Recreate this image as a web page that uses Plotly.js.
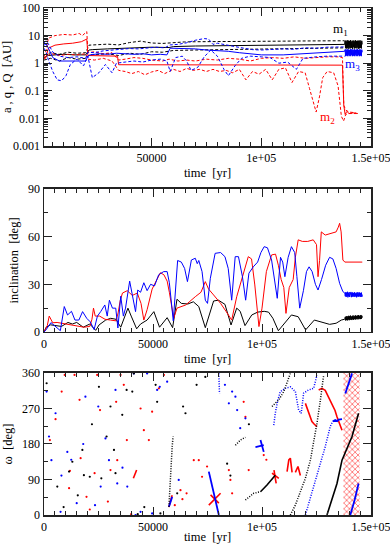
<!DOCTYPE html>
<html>
<head>
<meta charset="utf-8">
<script src="https://cdn.plot.ly/plotly-3.0.1.min.js"></script>
<style>
  body { margin: 0; background: #fff; }
  #plot { width: 390px; height: 544px; }
</style>
</head>
<body>
<div id="plot"></div>
<script>
// ---------- shared noisy tail (end of run) ----------
const noiseT = [138000,138200,138400,138600,138800,139000,139200,139400,139600,139800,
  140000,140200,140400,140600,140800,141000,141200,141400,141600,141800,
  142000,142200,142400,142600,142800,143000,143200,143400,143600,143800,
  144000,144200,144400,144600,144800,145000,145200,145400,145600,145800,146000];

// ---------- panel 1 : a, q, Q [AU] ----------
const kA_t = [1000,3000,6000,10000,15000,20000,21500,23000,30000,40000,50000,58000,60000,70000,80000,90000,100000,110000,120000,130000,137800];
const kA   = [1.6,1.9,2.0,2.1,2.0,2.0,3.0,3.1,3.3,3.6,3.8,3.7,4.0,4.2,4.3,4.4,4.5,4.6,4.7,4.8,4.8];
const kANoise = [4.8,6.4,3.5,6.7,3.4,6.2,3.6,6.8,3.3,6.5,3.7,6.3,3.4,6.9,3.5,6.1,3.6,6.6,3.3,6.4,3.8,6.7,3.4,6.2,3.5,6.8,3.6,6.3,3.4,6.5,3.7,6.6,3.3,6.4,3.5,6.8,3.6,6.2,3.4,6.5,4.8];
const kQ_t = [1000,4000,8000,12000,16000,20000,21500,25000,30000,35000,40000,45000,50000,55000,60000,65000,70000,80000,90000,100000,110000,120000,130000,138000];
const kQ   = [2.0,2.4,2.1,2.5,2.3,2.4,4.5,4.6,4.9,4.6,5.6,6.3,5.4,5.2,5.6,5.9,6.0,6.0,6.2,6.2,6.3,6.4,6.5,6.5];
const kq_t = [1000,4000,8000,12000,16000,20000,21500,25000,30000,35000,40000,45000,50000,55000,60000,70000,80000,90000,100000,110000,120000,130000,138000];
const kq   = [1.3,1.5,1.2,1.6,1.4,1.5,2.0,2.1,2.2,1.9,2.3,2.1,2.6,2.5,2.9,3.0,3.1,3.2,3.3,3.3,3.4,3.5,3.6];

const rA_t = [1000,2000,3000,6000,10000,14000,18000,20500,21000,25000,30000,34500,35000,50000,70000,90000,110000,130000,137000,137600,138200,139000,140000,142000,144000];
const rA   = [1.5,1.7,3.5,4.5,5.0,5.3,6.0,7.5,1.9,1.9,1.85,1.8,0.88,0.87,0.86,0.86,0.85,0.85,0.85,0.03,0.014,0.018,0.015,0.016,0.015];
const rQ_t = [1000,2000,3000,6000,10000,14000,17000,18500,20500,21000,24000,28000,32000,35000,38000,42000,46000,50000,55000,58000,62000,66000,70000,75000,80000,85000,90000,95000,100000,105000,110000,115000,120000,125000,130000,135000,137000,137600,138500,140000,143000];
const rQ   = [1.7,3,8,10,11,10.5,12,10,14,2.4,2.6,2.2,2.4,1.3,1.4,1.6,1.5,1.3,1.2,1.4,1.2,1.3,1.2,1.4,1.3,1.5,1.4,1.2,1.5,1.6,1.5,1.7,1.5,1.6,1.7,1.7,1.6,0.03,0.02,0.017,0.016];
const rq_t = [1000,2000,3000,5000,8000,12000,16000,20000,21000,24000,28000,32000,35000,38000,41000,44000,47000,50000,53000,56000,58000,60000,63000,66000,69000,72000,75000,78000,81000,84000,87000,90000,93000,96000,99000,102000,105000,108000,111000,114000,117000,120000,122000,124000,125000,126500,128000,130000,133000,135000,136500,137500,138500,140000,144000];
const rq   = [1.4,1.6,2.0,2.2,1.9,2.1,2.0,2.2,1.4,1.3,1.5,1.2,0.55,0.5,0.42,0.5,0.38,0.48,0.55,0.42,0.5,0.6,0.5,0.65,0.55,0.6,0.5,0.6,0.5,0.55,0.45,0.6,0.25,0.5,0.4,0.6,0.25,0.6,0.68,0.2,0.5,0.45,0.12,0.03,0.017,0.06,0.3,0.5,0.45,0.15,0.012,0.008,0.014,0.015,0.015];

const bA_t = [1000,2000,3000,5000,8000,12000,16000,20000,21000,22000,26000,30000,34000,38000,42000,46000,50000,54000,57000,58500,62000,66000,70000,75000,80000,85000,90000,95000,100000,110000,120000,130000,137800];
const bA   = [4.5,5.0,3.5,1.6,1.2,1.2,1.15,1.2,1.8,2.0,2.2,2.1,2.3,2.2,2.1,2.2,2.0,2.1,2.0,3.5,3.4,3.5,3.3,3.0,2.9,2.7,2.4,2.2,2.0,2.0,2.2,2.5,2.7];
const bANoise = [2.7,3.1,1.8,3.2,1.9,3.0,1.8,3.2,2.0,3.1,1.8,3.0,1.9,3.2,1.8,3.1,2.0,3.2,1.8,3.0,1.9,3.1,1.8,3.2,2.0,3.0,1.8,3.1,1.9,3.2,1.8,3.0,2.0,3.1,1.8,3.2,1.9,3.0,1.8,3.1,2.5];
const bQ_t = [1000,2000,3000,5000,8000,12000,16000,20000,21000,24000,28000,32000,36000,40000,44000,48000,52000,56000,58500,62000,66000,70000,74000,76000,78000,80000,84000,88000,92000,96000,100000,105000,110000,115000,120000,125000,130000,138000];
const bQ   = [5.5,6.5,5.0,2.5,1.8,1.6,1.7,1.5,2.5,2.4,2.8,3.0,3.2,3.4,3.3,3.6,3.8,3.6,4.6,4.8,5.5,6.8,7.8,7.5,4.8,5.3,4.5,4.0,3.5,3.1,3.0,3.2,3.3,3.2,3.6,3.5,3.8,3.9];
const bq_t = [1000,2000,3000,5000,7000,9000,11000,13000,16000,19000,21000,23000,26000,29000,32000,34000,38000,42000,46000,50000,54000,57000,58500,61000,64000,66000,68000,71000,74000,77000,80000,83000,85000,88000,91000,95000,100000,104000,108000,112000,116000,119000,125000,130000,138000];
const bq   = [3.5,2.5,1.3,0.5,0.25,0.23,0.35,0.9,1.4,0.8,1.8,0.3,0.45,0.9,0.45,1.0,1.1,1.2,1.1,1.3,1.4,1.2,0.5,1.6,1.8,1.2,0.55,0.7,1.7,3.0,1.8,0.6,0.35,0.8,1.5,1.8,1.7,1.6,1.0,1.1,0.6,1.5,1.7,1.8,1.8];

// ---------- panel 2 : inclination [deg] ----------
const kI_t = [0,1000,3000,6000,8000,11000,13000,15000,18000,21000,23700,25300,28300,30600,33000,35200,38500,40000,42500,44300,47300,50400,53000,56500,59000,61000,63000,66000,68500,71000,74000,77800,80000,83000,85800,88400,90000,92200,95300,98000,101000,103000,105000,107500,109700,113500,116600,120000,124000,127000,131000,134000,136400,137800];
const kI   = [0,3,4.5,4,3.5,6,5,6,3,5,1,4.5,7.5,8.6,8,3,15,10,2,5,7.5,12.8,3,9,2.7,20.6,18,17.6,19,16,2.7,19.5,20,17.4,4.4,15,13,4,10.7,12.5,13,12.5,8.6,0.8,4.4,10.7,9.6,1.3,7.5,6.5,4.8,5.5,7.5,8];
const kINoise = [8,9.5,7.2,9.8,7.5,10,7.3,9.6,7.8,10.2,7.4,9.9,7.6,10.3,7.9,9.7,7.5,10.1,8,10.4,7.7,9.8,8.1,10.2,7.8,10.5,8.2,10,7.9,10.3,8.3,10.6,8,10.1,8.4,10.4,8.1,10.7,8.3,10.2,9];
const bI_t = [0,900,3200,5500,7500,9300,10800,12600,14200,16000,17700,19600,21200,23000,24500,26000,27900,29000,30000,31400,32900,33900,35200,36400,37400,39300,40500,42000,43000,44300,45800,47300,48900,50700,52600,54900,56500,57500,59300,61300,63000,64500,65800,67600,69400,70300,71000,72500,74000,75000,76300,78500,81000,83000,84500,86100,87700,89200,91000,92500,94000,96000,98000,99500,101000,102500,104400,105500,107000,108500,109500,110500,112000,113500,115000,116000,117300,119000,120400,121600,123000,124500,125700,127300,129200,131000,132500,134000,135600,137100,137800];
const bI   = [0,1.3,5.9,3.4,0.8,16,10.7,13,7.5,7.5,12.8,8.6,6.4,1.5,10,12.8,17,10,20,15,15,2.5,22.5,10,15,32,23,12.8,26.4,25,31,26,30,29,36,38,38,31,7,45,44,40,31.7,45.3,46.4,43,45,38,20,18,33.8,49.5,50,47.4,40,20,47.4,47.4,35,20,37,41,44,50,53.7,53,45.3,35,21.2,47,44,34.8,47,53.7,50,35,15,26,38,41,38,30,26.4,33,42,47,46,40,30.6,25.4,24.5];
const bINoise = [24.5,22.5,25,22,24.8,22.6,25.3,21.8,24.6,22.4,25.1,22,24.4,22.8,25.2,21.9,24.7,22.3,24.9,22.1,24.5,22.7,25,22,24.3,22.5,24.8,21.8,24.6,22.4,25.1,22.2,24.4,22.6,24.9,22,24.5,22.3,24.8,22.1,23.5];
const rI_t = [0,1500,2400,4000,6000,8000,10800,14000,18400,21000,22000,22700,23500,25500,28000,30500,33000,34000,35000,36000,38200,40500,42800,44500,45800,47300,49600,51900,53400,55000,56500,57500,59500,61000,65000,69400,72000,74000,75500,77800,81000,83500,86100,88400,91000,93700,95200,96700,98600,100000,102000,104400,106200,107500,108800,110000,111000,112500,114300,115300,116600,118500,121000,123500,125000,125700,126400,127200,129000,131500,134000,135000,135600,136300,137100,138000,146000];
const rI   = [0,4,10,5.8,6,5.5,4.5,4,3,3.5,8,15,10,10,8,7.5,7,12,20,24.5,26,23,24.5,18,7.5,14,27,33.3,37.3,36,32,25,8.6,15,17,22.2,25,31.7,27,23.3,18,13,7.5,22.2,33.8,47.4,46,29.6,3.4,15,38,48.5,49,42,33,28,11.7,28,33,47,58,57,57,58,55,34.8,45,63,61,62,63,66,68.4,63,45.3,44,44];

// ---------- panel 3 : omega [deg], scattered samples ----------
const rDotT = [2700,5300,8100,9500,11500,11900,16300,16800,19500,23200,24400,25700,29300,30500,33100,33600,35100,36600,44300,45800,48100,49600,52700,55000,62600,65400,68700,71000,72500,74800,84800,85500,86300,91600,92400,93900,100800,102000,21000,40000,14000,38000,60000,63500];
const rDotW = [190,243,313,355,68,112,292,144,46,106,355,266,34,114,287,139,355,330,270,215,190,262,321,355,63,55,139,139,97,123,114,89,55,287,249,114,152,140,14,2,355,190,25,40];
const bDotT = [1200,2300,3400,5300,7600,10700,15000,23400,24900,26000,28200,29800,32800,33600,38200,41200,42000,44300,47300,49600,51900,53100,56500,61800,84800,86300,87800,88600,92400,90000,83000,12500,19000,36000,8000,18000];
const bDotW = [313,199,139,258,8,160,30,25,275,72,194,139,317,80,72,359,0,8,359,4,317,325,338,89,283,313,300,266,245,220,330,140,300,120,100,180];
const kDotT = [1200,6100,11500,13000,17600,18300,21000,25200,26300,28700,30500,32100,32800,35900,37900,40500,41200,51200,51900,53400,61100,63800,64900,9000,15500,22000,43000,46000,84000,85500,94000,70000,74000];
const kDotW = [334,72,110,135,165,101,97,325,93,199,275,165,106,254,317,313,359,330,287,4,55,275,258,20,50,230,2,20,130,100,230,330,350];

// ---------- panel 3 : omega tracks ----------
const rTrackT = [[75600,81000],[76400,80200],[41000,42500],[104600,107700],[105500,106500],[111500,112300,113000,113800],[115300,116500,117600],[119900,120700,121400,122200,122900,124000,125200],[126000,127500,129000,130500,132100,133500,134400,135600,136700],[57300,58000,58800]];
const rTrackW = [[25,55],[51,30],[93,114],[106,93],[114,80],[110,140,144,108],[108,123,100],[283,270,258,245,237,230,224],[317,321,316,300,283,265,249,232,215],[20,35,50]];
const bTrackT = [[75600,77000,78500,80200],[97000,100800],[99300,100800],[132400,133600,134500,135200,136700],[140500,142500,144300],[138200,139700,141300],[57300,58000,58800]];
const bTrackW = [[110,75,40,0],[172,177],[190,160],[237,241,238,242,243],[0,38,80],[308,334,359],[21,32,46]];
const bPathT = [[80200,80500],[105400,106100,107200,108400,110700,113000,115300,116800,118000,119100,121400,123700,125200],[119900,122900,126000,129000,131300,132400]];
const bPathW = [[359,308],[228,258,290,313,321,325,313,266,258,309,317,321,355],[0,55,114,173,224,237]];
const kTrackT = [[99300,102300,106100],[129800,132100,134400,136700,139000,141300,144300]];
const kTrackW = [[59,76,101],[0,38,80,139,169,199,258]];
const kPathT = [[92400,96200,99300],[87800,90100,92400],[104600,107700,110000,112300,113000],[113000,115300,117600,119900,122200,123700,125200,126800,128300],[57300,57700,58300,58800,59200]];
const kPathW = [[38,55,59],[177,190,197],[275,292,313,346,359],[0,25,59,93,139,182,232,292,355],[21,72,123,173,199]];
// fast-circulating red body at the end (dense hatched band)
const rBandStart = 137400;
const rBandEnd = 144800;
const omegaTop = 360;

const BLACK = '#000000', RED = '#ff0000', BLUE = '#0000ff';
const serif = 'Liberation Serif, Times New Roman, serif';
let traces = [];

function line(x, y, color, xa, ya, dash, w){
    traces.push({x, y, xaxis: xa, yaxis: ya, type: 'scatter', mode: 'lines',
        line: {color, width: w || 1, dash: dash || 'solid'}, hoverinfo: 'skip'});
}
const DASH = '3px,2px';

// panel 1
line(kQ_t, kQ, BLACK, 'x', 'y', DASH);
line(kq_t, kq, BLACK, 'x', 'y', DASH);
line(kA_t.concat(noiseT), kA.concat(kANoise), BLACK, 'x', 'y');
line(rQ_t, rQ, RED, 'x', 'y', DASH);
line(rq_t, rq, RED, 'x', 'y', DASH);
line(rA_t, rA, RED, 'x', 'y');
line(bQ_t, bQ, BLUE, 'x', 'y', DASH);
line(bq_t, bq, BLUE, 'x', 'y', DASH);
line(bA_t.concat(noiseT), bA.concat(bANoise), BLUE, 'x', 'y');

// panel 2
line(kI_t.concat(noiseT), kI.concat(kINoise), BLACK, 'x2', 'y2');
line(rI_t, rI, RED, 'x2', 'y2');
line(bI_t.concat(noiseT), bI.concat(bINoise), BLUE, 'x2', 'y2');

// panel 3
traces.push({
    type: 'bar', x: [(rBandStart + rBandEnd) / 2], y: [omegaTop], width: [rBandEnd - rBandStart],
    xaxis: 'x3', yaxis: 'y3', hoverinfo: 'skip',
    marker: {color: 'rgba(0,0,0,0)', line: {width: 0},
        pattern: {shape: 'x', fgcolor: '#ff4040', bgcolor: 'rgba(255,255,255,0)', size: 4, solidity: 0.3}}
});
function dots(x, y, color){
    traces.push({x, y, xaxis: 'x3', yaxis: 'y3', type: 'scatter', mode: 'markers',
        marker: {color, size: 2.2}, hoverinfo: 'skip'});
}
dots(rDotT, rDotW, RED);
dots(bDotT, bDotW, BLUE);
dots(kDotT, kDotW, BLACK);
rTrackT.forEach((t, i) => line(t, rTrackW[i], RED, 'x3', 'y3', 'solid', 1.6));
bTrackT.forEach((t, i) => line(t, bTrackW[i], BLUE, 'x3', 'y3', 'solid', 1.8));
bPathT.forEach((t, i) => line(t, bPathW[i], BLUE, 'x3', 'y3', '1px,1.5px', 1.5));
kTrackT.forEach((t, i) => line(t, kTrackW[i], BLACK, 'x3', 'y3', 'solid', 1.6));
kPathT.forEach((t, i) => line(t, kPathW[i], BLACK, 'x3', 'y3', '1px,1.5px', 1.5));

const axisBase = {
    showline: true, linecolor: '#222', linewidth: 1.5, mirror: 'ticks',
    ticks: 'inside', ticklen: 8, tickwidth: 1, tickcolor: '#222',
    showgrid: false, zeroline: false, ticklabeloverflow: 'allow',
    tickfont: {family: serif, size: 12, color: '#000'},
    title: {font: {family: serif, size: 12.5, color: '#000'}}
};
function xaxis(range, anchor){
    return Object.assign({}, axisBase, {
        range, tickvals: [0, 50000, 100000, 150000], ticktext: ['0', '50000', '1e+05', '1.5e+05'], anchor,
        minor: {ticks: 'inside', ticklen: 4, dtick: 5000, tick0: 0, tickcolor: '#222', showgrid: false},
        title: {text: 'time\u00a0 [yr]', standoff: 4, font: axisBase.title.font}
    });
}

const layout = {
    width: 390, height: 544,
    margin: {l: 44, r: 19, t: 8, b: 29},
    paper_bgcolor: '#fff', plot_bgcolor: '#fff',
    showlegend: false, barmode: 'overlay',
    xaxis: xaxis([1000, 150000], 'y'),
    xaxis2: xaxis([0, 150000], 'y2'),
    xaxis3: xaxis([0, 150000], 'y3'),
    yaxis: Object.assign({}, axisBase, {
        type: 'log', range: [-3, 2], domain: [0.7278, 1], anchor: 'x',
        tickvals: [0.001, 0.01, 0.1, 1, 10, 100], ticktext: ['0.001', '0.01', '0.1', '1', '10', '100'],
        minor: {ticks: 'inside', ticklen: 4, dtick: 'D1', tickcolor: '#222', showgrid: false},
        title: {text: 'a , q , Q\u00a0 [AU]', standoff: 6, font: axisBase.title.font}
    }),
    yaxis2: Object.assign({}, axisBase, {
        range: [0, 90], domain: [0.361, 0.643], anchor: 'x2',
        tickvals: [0, 30, 60, 90],
        minor: {ticks: 'inside', ticklen: 4, dtick: 15, tickcolor: '#222', showgrid: false},
        title: {text: 'inclination\u00a0 [deg]', standoff: 6, font: axisBase.title.font}
    }),
    yaxis3: Object.assign({}, axisBase, {
        range: [0, 360], domain: [0, 0.2801], anchor: 'x3',
        tickvals: [0, 90, 180, 270, 360],
        minor: {ticks: 'inside', ticklen: 4, dtick: 45, tickcolor: '#222', showgrid: false},
        title: {text: 'ω\u00a0 [deg]', standoff: 6, font: axisBase.title.font}
    }),
    annotations: [
        {x: 136300, y: 1.206, xref: 'x', yref: 'y', text: 'm<sub>1</sub>', showarrow: false,
            font: {family: serif, size: 13, color: BLACK}},
        {x: 141400, y: -0.035, xref: 'x', yref: 'y', text: 'm<sub>3</sub>', showarrow: false,
            font: {family: serif, size: 13, color: BLUE}},
        {x: 130000, y: -1.95, xref: 'x', yref: 'y', text: 'm<sub>2</sub>', showarrow: false,
            font: {family: serif, size: 13, color: RED}}
    ]
};

Plotly.newPlot('plot', traces, layout, {staticPlot: true, displayModeBar: false});
</script>
</body>
</html>
